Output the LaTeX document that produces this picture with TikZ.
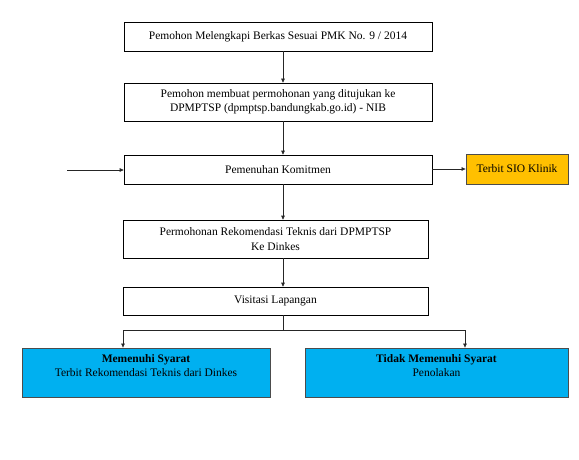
\documentclass[tikz,border=0pt]{standalone}
\usepackage{fontspec}
\setmainfont{Liberation Serif}
\usetikzlibrary{arrows.meta}
\definecolor{boxyellow}{HTML}{FFC000}
\definecolor{boxblue}{HTML}{00B0F0}
\begin{document}
\begin{tikzpicture}[x=1pt,y=-1pt,
  every node/.style={font=\fontsize{11.5}{14.5}\selectfont},
  stepbox/.style={draw=black, line width=0.6pt, fill=white, inner sep=0pt, align=center},
  yelbox/.style={draw=black!70, line width=0.8pt, fill=boxyellow, inner sep=0pt, align=center},
  bluebox/.style={draw=black!70, line width=0.8pt, fill=boxblue, inner sep=0pt, align=center},
  conn/.style={draw=black!85, line width=0.6pt},
  arr/.style={conn, -{Triangle[length=4pt,width=3.5pt]}}]
\useasboundingbox (0,0) rectangle (579,460);
\node[stepbox, minimum width=308pt, minimum height=29pt] (b1) at (278,36.5) {Pemohon Melengkapi Berkas Sesuai PMK No. 9 / 2014};
\node[stepbox, minimum width=308pt, minimum height=38pt] (b2) at (278,102) {Pemohon membuat permohonan yang ditujukan ke\\DPMPTSP (dpmptsp.bandungkab.go.id) - NIB};
\node[stepbox, minimum width=308pt, minimum height=29pt] (b3) at (278,169.5) {Pemenuhan Komitmen};
\node[yelbox, minimum width=102pt, minimum height=30pt] (sio) at (517,169) {Terbit SIO Klinik};
\node[stepbox, minimum width=305pt, minimum height=38pt] (b4) at (275.5,239) {Permohonan Rekomendasi Teknis dari DPMPTSP\\Ke Dinkes};
\node[stepbox, minimum width=305pt, minimum height=28pt] (b5) at (275.5,301) {Visitasi Lapangan};
\node[bluebox, minimum width=248pt, minimum height=49pt, text depth=14pt] (ok) at (146,372.5) {\textbf{Memenuhi Syarat}\\Terbit Rekomendasi Teknis dari Dinkes};
\node[bluebox, minimum width=263pt, minimum height=49pt, text depth=14pt] (no) at (436.5,372.5) {\textbf{Tidak Memenuhi Syarat}\\Penolakan};
\coordinate (in) at (67,170);
\coordinate (split) at (283,330);
\coordinate (sl) at (123,330);
\coordinate (sr) at (465,330);
\draw[arr] (b1.south -| split) -- (b2.north -| split);
\draw[arr] (b2.south -| split) -- (b3.north -| split);
\draw[arr] (b3.south -| split) -- (b4.north -| split);
\draw[arr] (b4.south -| split) -- (b5.north -| split);
\draw[arr] (in) -- (b3.west |- in);
\draw[arr] (b3.east |- sio) -- (sio.west);
\draw[conn] (b5.south -| split) -- (split);
\draw[conn] (sl) -- (sr);
\draw[arr] (sl) -- (ok.north -| sl);
\draw[arr] (sr) -- (no.north -| sr);
\end{tikzpicture}
\end{document}
